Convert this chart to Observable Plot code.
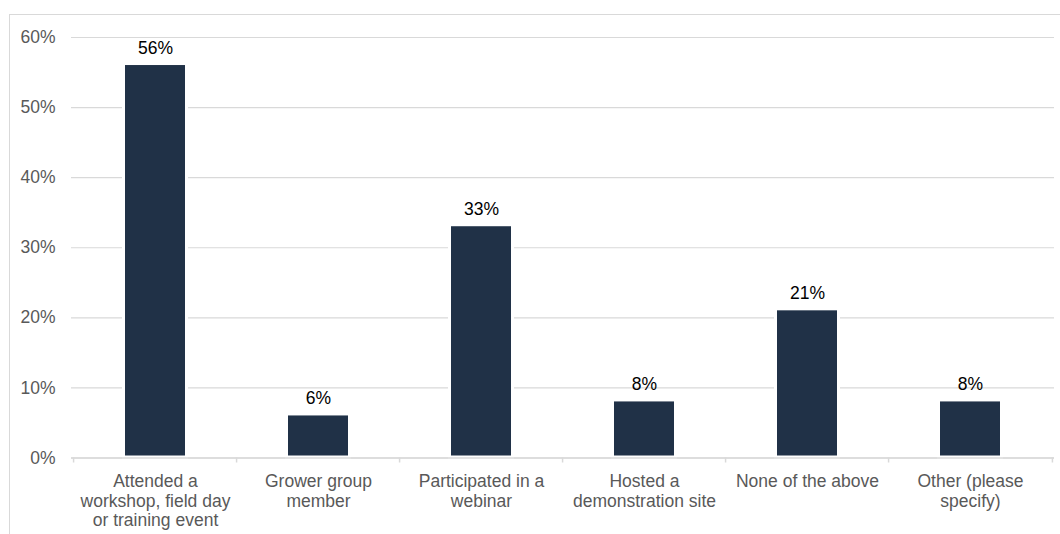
<!DOCTYPE html>
<html>
<head>
<meta charset="utf-8">
<script src="https://cdn.jsdelivr.net/npm/d3@7"></script>
<script src="https://cdn.jsdelivr.net/npm/@observablehq/plot@0.6"></script>
<style>
  html, body { margin: 0; padding: 0; background: #fff; overflow: hidden; }
  #frame { position: absolute; left: 9px; top: 14px; width: 1100px; height: 600px; border: 1px solid #d9d9d9; }
  #chart { position: absolute; left: 0; top: 0; }
</style>
</head>
<body>
<div id="frame"></div>
<div id="chart"></div>
<script>
// Survey responses: share of respondents per activity
const categories = ["attended", "grower", "webinar", "hosted", "none", "other"];
const categoryLabels = [
  "Attended a\nworkshop, field day\nor training event",
  "Grower group\nmember",
  "Participated in a\nwebinar",
  "Hosted a\ndemonstration site",
  "None of the above",
  "Other (please\nspecify)"
];
const values = [56, 6, 33, 8, 21, 8];
const yTicks = [0, 10, 20, 30, 40, 50, 60];

const data = categories.map((c, i) => ({category: c, label: categoryLabels[i], value: values[i]}));

const W = 1060, H = 534;
const ML = 71, MR = 6, MT = 37, MB = 76.5;
const step = (W - ML - MR) / categories.length;
const font = "'Liberation Sans', Arial, sans-serif";
const fs = 17.5;

const chart = Plot.plot({
  width: W,
  height: H,
  marginLeft: ML,
  marginRight: MR,
  marginTop: MT,
  marginBottom: MB,
  style: {fontFamily: font, fontSize: fs + "px", background: "transparent", overflow: "visible"},
  x: {domain: categories, paddingInner: 0.63, paddingOuter: 0.315, align: 0.5, axis: null},
  y: {domain: [0, 60], axis: null},
  marks: [
    Plot.gridY(yTicks, {stroke: "#d9d9d9", strokeOpacity: 1, strokeWidth: 1.2}),
    Plot.axisY(yTicks, {tickSize: 0, tickPadding: 16, tickFormat: d => d + "%", fill: "#595959", fontSize: fs, label: null}),
    // white halo so gridlines stop short of each bar
    Plot.barY(data, {x: "category", y: "value", fill: "white", stroke: "white", strokeWidth: 6}),
    Plot.barY(data, {x: "category", y: "value", fill: "#203147", insetBottom: 2}),
    Plot.ruleY([0], {stroke: "#d9d9d9", strokeWidth: 1.5}),
    // category boundary ticks below the baseline
    Plot.ruleX(categories, {x: d => d, y1: 0, y2: 0, insetBottom: -5, dx: -step / 2, stroke: "#d9d9d9", strokeWidth: 1.5}),
    Plot.ruleX(categories.slice(-1), {x: d => d, y1: 0, y2: 0, insetBottom: -5, dx: step / 2, stroke: "#d9d9d9", strokeWidth: 1.5}),
    Plot.text(data, {x: "category", y: "value", text: d => d.value + "%", lineAnchor: "bottom", dy: -12, fill: "#000", fontSize: fs}),
    Plot.text(data, {x: "category", y: 0, text: "label", lineAnchor: "top", dy: 15, lineHeight: 1.12, fill: "#595959", fontSize: fs})
  ]
});

document.getElementById("chart").appendChild(chart);
</script>
</body>
</html>
